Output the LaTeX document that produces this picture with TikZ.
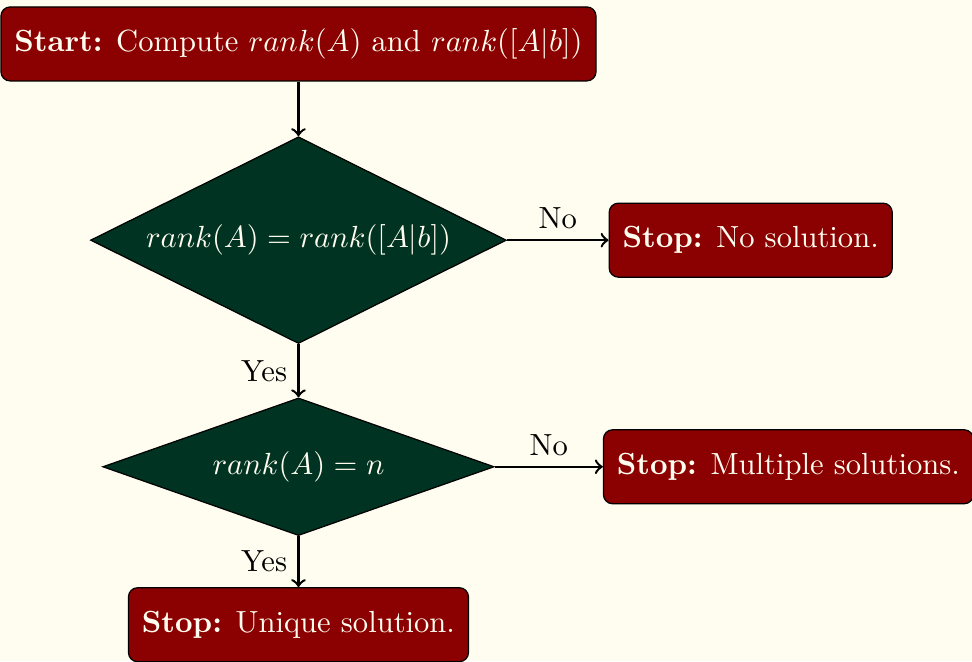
\documentclass[tikz,border=0pt]{standalone}
\usepackage{amsmath}
\usepackage{tikz}
\usetikzlibrary{shapes.geometric}
\definecolor{paper}{RGB}{255,253,240}
\definecolor{stopred}{RGB}{139,0,0}
\definecolor{testgreen}{RGB}{0,51,34}

\begin{document}
\begin{tikzpicture}[
                    block/.style={draw=black,fill=stopred,text=paper,rounded corners=3pt,
                        inner xsep=4.4pt,minimum height=24.2pt},
                    test/.style={draw=black,fill=testgreen,text=paper,diamond,aspect=2,inner sep=1pt},
                    line/.style={draw,thick,->}]
                    \fill[paper] (0,0) rectangle (11.17,-7.60);
                    \useasboundingbox (0,0) rectangle (11.17,-7.60);
                    \node[block] (start) at (3.43,-0.505)
                        {\textbf{Start:} Compute $rank(A)$ and $rank([A|b])$};
                    \node[test,minimum width=136pt,minimum height=67.6pt] (rankeq) at (3.43,-2.76)
                        {$rank(A)=rank([A|b])$};
                    \node[block] (nosol) at (8.627,-2.76) {\textbf{Stop:} No solution.};
                    \node[test,minimum width=128pt,minimum height=45pt] (rankn) at (3.43,-5.364)
                        {$rank(A)=n$};
                    \node[block] (multi) at (9.06,-5.364) {\textbf{Stop:} Multiple solutions.};
                    \node[block] (unique) at (3.43,-7.179) {\textbf{Stop:} Unique solution.};
                    \draw[line] (start) -- (rankeq);
                    \draw[line] (rankeq) -- node[above] {No} (nosol);
                    \draw[line] (rankeq) -- node[left] {Yes} (rankn);
                    \draw[line] (rankn) -- node[above] {No} (multi);
                    \draw[line] (rankn) -- node[left] {Yes} (unique);
                \end{tikzpicture}
\end{document}
